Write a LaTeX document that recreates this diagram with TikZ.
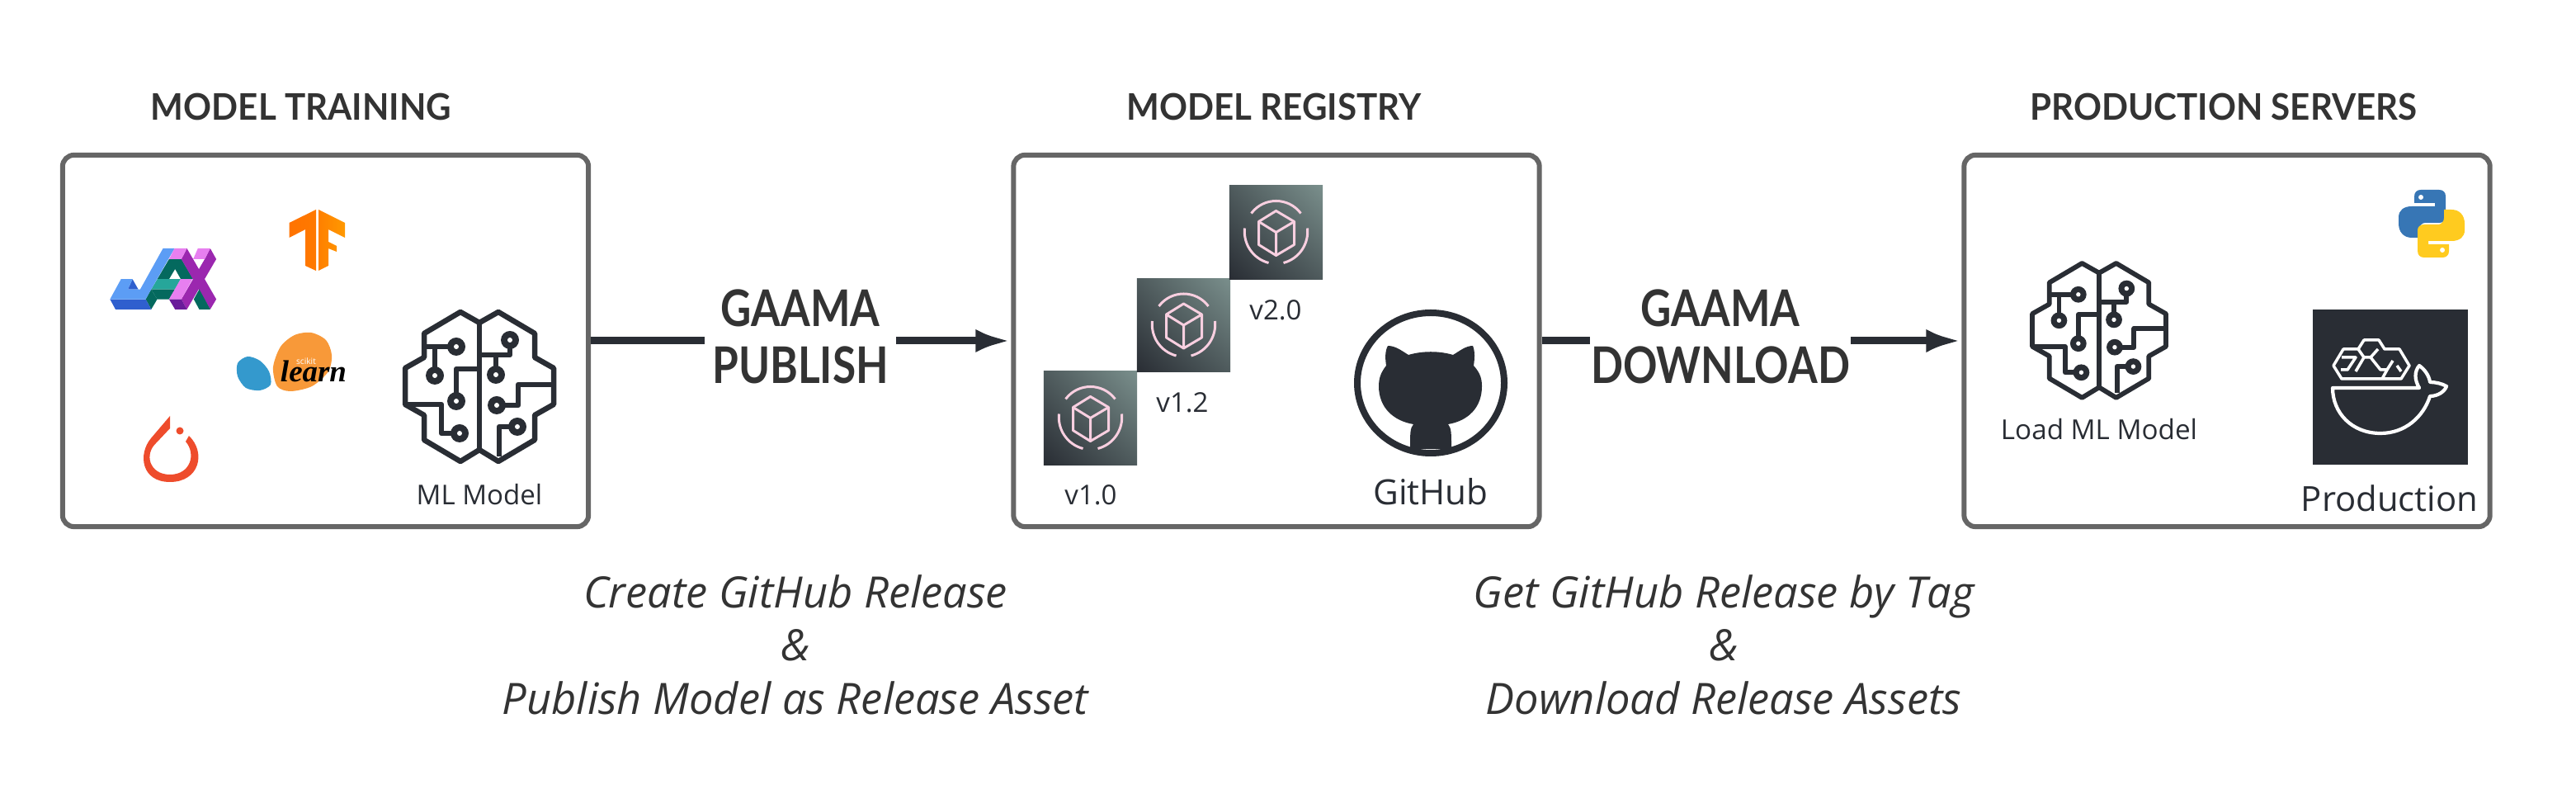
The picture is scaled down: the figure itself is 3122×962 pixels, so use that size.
\documentclass[tikz,border=0pt]{standalone}
\usepackage{fontspec}
\setmainfont{Open Sans}
\newfontfamily\titlefont{Lato}[BoldFont=Lato Bold,FakeStretch=.95]
\newfontfamily\flowfont{Lato}[BoldFont=Lato Bold,FakeStretch=.84]
\newfontfamily\learnfont{Liberation Serif}
\usepackage{xcolor}
\usepackage{tikz}
\usetikzlibrary{arrows.meta,calc,shadings}
\definecolor{inkdark}{HTML}{292D34}
\definecolor{boxgrey}{HTML}{666666}
\definecolor{hexpink}{HTML}{F8CFE0}
\definecolor{modelhi}{HTML}{7A8F8C}
\definecolor{modelmid}{HTML}{4F5B5D}
\definecolor{jaxblue}{HTML}{5C9DF5}
\definecolor{jaxnavy}{HTML}{2F5FCE}
\definecolor{jaxteal}{HTML}{04695E}
\definecolor{jaxmint}{HTML}{26A69A}
\definecolor{jaxpink}{HTML}{E77FF0}
\definecolor{jaxviolet}{HTML}{9B27AF}
\definecolor{jaxplum}{HTML}{6A1B9A}
\definecolor{skorange}{HTML}{F89939}
\definecolor{skblue}{HTML}{3499CD}
\definecolor{torchred}{HTML}{EE4C2C}
\definecolor{pyblue}{HTML}{3776B5}
\definecolor{pyyellow}{HTML}{FFCB1F}
\tikzstyle{stagebox}=[draw=boxgrey, line width=.06cm, rounded corners=.14cm, minimum width=6.37cm, minimum height=4.5cm, inner sep=0pt]
\tikzstyle{flowline}=[inkdark, line width=.09cm]
\tikzstyle{flowarrow}=[flowline, -{Latex[length=.43cm,width=.28cm]}]
\tikzstyle{stagetitle}=[anchor=base, inner sep=0pt, text=black!80, font=\titlefont\bfseries\fontsize{12.6}{14}\selectfont]
\tikzstyle{flowlabel}=[inner sep=0pt, align=center, text=black!80, font=\flowfont\bfseries\fontsize{17.4}{19.4}\selectfont]
\tikzstyle{iconlabel}=[anchor=base, inner sep=0pt, text=inkdark]
\tikzstyle{caption}=[inner sep=0pt, align=center, text=black!80, font=\itshape\fontsize{14.9}{18.35}\selectfont]
\tikzstyle{circuit}=[inkdark, line join=round]
\tikzset{pics/brainicon/.style={code={
	\draw[circuit] (0,-77) -- (-23,-90) -- (-67,-64) -- (-67,-35) -- (-90,-22) -- (-90,22) -- (-67,35) -- (-67,65) -- (-23,91) -- (0,77) -- (23,91) -- (67,65) -- (67,35) -- (90,22) -- (90,-22) -- (67,-35) -- (67,-64) -- (23,-90) -- cycle;
	\draw[circuit] (0,-77) -- (0,77);
	\draw[circuit] (-67,-48) -- (-28,-48);
	\draw[circuit] (-54,-48) -- (-54,-13);
	\draw[circuit] (0,-21) -- (-28,-21) -- (-28,18);
	\draw[circuit] (-90,22) -- (-46,22) -- (-46,57) -- (-24,57);
	\draw[circuit] (0,-38) -- (37,-38) -- (37,-56);
	\draw[circuit] (20,-38) -- (20,-14);
	\draw[circuit] (21,23) -- (47,23) -- (47,-2) -- (90,-2);
	\draw[circuit] (46,49) -- (24,49) -- (24,85);
	\foreach \x/\y in {-28/-48,-54/-13,-28/18,-24/57,37/-56,20/-14,21/23,46/49} {
		\fill[inkdark] (\x,\y) circle[radius=11];
		\fill[white] (\x,\y) circle[radius=3];
	}
}}}
\tikzset{pics/hexmodel/.style={code={
	\draw[hexpink, line width=.03cm, line join=round] (0,-26) -- (22,-13) -- (22,15) -- (0,28) -- (-21,15) -- (-21,-13) -- cycle;
	\draw[hexpink, line width=.03cm, line join=round] (-21,-13) -- (0,0) -- (22,-13) (0,0) -- (0,28);
	\draw[hexpink, line width=.03cm] (-30,-23) .. controls (-15,-43) and (15,-43) .. (30,-23);
	\draw[hexpink, line width=.03cm] (38,-5) .. controls (40,14) and (28,32) .. (9,37);
	\draw[hexpink, line width=.03cm] (-38,-5) .. controls (-40,14) and (-28,32) .. (-9,37);
}}}
\begin{document}
\begin{tikzpicture}[x=.01cm,y=-.01cm]
\useasboundingbox (0,0) rectangle (3122,962);

\node[stagebox] (train) at (394.5,413) {};
\node[stagebox] (registry) at (1547,413) {};
\node[stagebox] (serve) at (2699,413) {};

\node[stagetitle] (traintitle) at (365,146) {MODEL TRAINING};
\node[stagetitle] (registrytitle) at (1544,146) {MODEL REGISTRY};
\node[stagetitle] (servetitle) at (2695,146) {PRODUCTION SERVERS};

\node[flowlabel, minimum width=2.31cm] (publish) at (970,408) {GAAMA\\PUBLISH};
\node[flowlabel, minimum width=3.04cm] (download) at (2085,408) {GAAMA\\DOWNLOAD};
\draw[flowline] (train.east) -- (train.east -| publish.west);
\draw[flowarrow] (registry.west -| publish.east) -- (registry.west);
\draw[flowline] (registry.east) -- (registry.east -| download.west);
\draw[flowarrow] (serve.west -| download.east) -- (serve.west);

\node[caption] (pubnote) at (964,781) {Create GitHub Release\\\&\\Publish Model as Release Asset};
\node[caption] (getnote) at (2089,781) {Get GitHub Release by Tag\\\&\\Download Release Assets};

\begin{scope}[shift={(125,290)},x=.00333cm,y=-.00333cm]
\fill[jaxteal] (240,72) -- (285,72) -- (328,145) -- (283,145) -- (262,108) -- (240,145) -- (197,145) -- cycle;
\fill[jaxmint] (197,145) -- (282,145) -- (262,182) -- (175,182) -- cycle;
\fill[jaxteal] (175,182) -- (262,182) -- (240,218) -- (197,218) -- cycle;
\fill[jaxteal] (155,218) -- (175,182) -- (197,218) -- (175,255) -- cycle;
\fill[jaxviolet] (390,33) -- (412,72) -- (305,255) -- (285,218) -- (370,72) -- cycle;
\fill[jaxviolet] (305,33) -- (412,218) -- (390,255) -- (285,72) -- cycle;
\fill[jaxteal] (350,182) -- (370,218) -- (390,255) -- (350,255) -- (330,218) -- cycle;
\fill[jaxnavy] (25,218) -- (155,218) -- (175,255) -- (45,255) -- cycle;
\fill[jaxnavy] (107,145) -- (128,182) -- (90,182) -- cycle;
\fill[jaxblue] (65,145) -- (107,145) -- (90,182) -- (135,182) -- (218,33) -- (260,33) -- (175,182) -- (155,218) -- (25,218) -- cycle;
\fill[jaxpink] (260,33) -- (305,33) -- (285,72) -- (240,72) -- cycle;
\fill[jaxpink] (345,33) -- (390,33) -- (370,72) -- (328,72) -- cycle;
\fill[jaxpink] (282,145) -- (325,145) -- (285,218) -- (240,218) -- cycle;
\fill[jaxplum] (240,218) -- (285,218) -- (305,255) -- (262,255) -- cycle;
\end{scope}

\shade[left color=orange!90!red, right color=orange!95!red] (383,254) -- (350.5,270) -- (350.5,288) -- (370,278) -- (370,322) -- (383,328) -- cycle;
\shade[left color=orange, right color=orange!80!yellow] (386,254) -- (418,270) -- (418,288) -- (398,278) -- (398,293) -- (408,298) -- (408,305) -- (398,301) -- (398,322) -- (386,328) -- cycle;

\fill[skblue] plot[smooth cycle] coordinates {(300,432) (315,437) (326,450) (328,466) (315,473) (298,470) (288,456) (288,440)};
\fill[skorange] plot[smooth cycle] coordinates {(377,403) (395,412) (402,430) (398,450) (378,468) (352,474) (336,468) (331,445) (340,420) (357,406)};
\node[iconlabel, text=white, font=\fontsize{2.9}{3}\selectfont] (scikit) at (371,442) {scikit};
\node[iconlabel, text=black, font=\learnfont\bfseries\itshape\fontsize{10.5}{11}\selectfont] (learn) at (380,463) {learn};

\fill[torchred] (206,504) -- (183,531) .. controls (167,550) and (171,584) .. (206,584) .. controls (242,584) and (250,548) .. (229,528) -- (225,535) .. controls (238,550) and (231,575) .. (206,575) .. controls (181,575) and (174,550) .. (190,536) -- (206,519) -- cycle;
\fill[torchred] (218,522) circle[radius=4.5];

\pic[line width=.065cm] at (581,468) {brainicon};
\node[iconlabel, font=\fontsize{9.4}{10}\selectfont] (mlmodel) at (581,612) {ML Model};

\foreach \name/\x/\y/\vname/\vx/\vy in {a/1321.5/506.5/v1.0/1322/612,b/1434.5/394/v1.2/1433/500,c/1546.5/281.5/v2.0/1546/388} {
	\node[minimum width=1.13cm, minimum height=1.13cm, inner sep=0pt, shade, upper right=modelhi, upper left=modelmid, lower right=modelmid, lower left=inkdark] (model\name) at (\x,\y) {};
	\pic at (model\name) {hexmodel};
	\node[iconlabel, font=\fontsize{9.4}{10}\selectfont] (tag\name) at (\vx,\vy) {\vname};
}

\begin{scope}[shift={(1734,464)}]
\draw[inkdark, line width=.08cm] (0,0) ellipse[x radius=89, y radius=85];
\fill[inkdark] (-52,-45) .. controls (-42,-45) and (-34,-38) .. (-27,-34) .. controls (-10,-39) and (10,-39) .. (27,-34) .. controls (34,-38) and (42,-45) .. (51,-45) .. controls (54,-38) and (53,-28) .. (52,-21) .. controls (60,-12) and (62,-5) .. (62,4) .. controls (62,30) and (45,46) .. (21,50) .. controls (25,55) and (25,60) .. (25,80) -- (-25,80) .. controls (-25,60) and (-25,55) .. (-21,50) .. controls (-45,46) and (-63,30) .. (-63,4) .. controls (-63,-5) and (-61,-12) .. (-54,-21) .. controls (-55,-28) and (-56,-38) .. (-52,-45) -- cycle;
\end{scope}
\node[iconlabel, font=\fontsize{12}{14}\selectfont] (github) at (1734,612) {GitHub};

\pic[scale=.9, line width=.058cm] at (2544,400) {brainicon};
\node[iconlabel, font=\fontsize{9.45}{10}\selectfont] (loadmodel) at (2544,533) {Load ML Model};

\foreach \rr/\clr in {0/pyblue,180/pyyellow} {
	\begin{scope}[shift={(2947,271)},rotate=\rr]
	\fill[\clr] (-21,-33) .. controls (-21,-38) and (-18,-41) .. (-13,-41) -- (9,-41) .. controls (14,-41) and (17,-38) .. (17,-33) -- (17,-8) .. controls (17,-4) and (14,-1) .. (9,-1) -- (-8,-1) .. controls (-12,-1) and (-15,3) .. (-15,7) -- (-15,17) -- (-24,17) .. controls (-34,17) and (-40,10) .. (-40,0) -- (-40,-8) .. controls (-40,-16) and (-34,-21) .. (-24,-21) -- (4,-21) -- (4,-25) -- (-21,-25) -- cycle;
	\fill[white] (-13,-32) circle[radius=3];
	\end{scope}
}

\fill[inkdark] (2803,375) rectangle (2991,563);
\draw[white, line width=.042cm, line join=round] (2827,470) -- (2932,470) .. controls (2926,460) and (2926,450) .. (2932,443) .. controls (2938,447) and (2944,455) .. (2945,463) .. controls (2952,463) and (2960,465) .. (2965,468) .. controls (2963,474) and (2955,480) .. (2945,480) .. controls (2937,505) and (2915,525) .. (2885,525) .. controls (2850,525) and (2827,500) .. (2827,470) -- cycle;
\draw[white, line width=.035cm, line join=round] (2828,443) -- (2840,423) -- (2858,423) -- (2865,412) -- (2883,412) -- (2890,423) -- (2908,423) -- (2920,443) -- (2910,459) -- (2838,459) -- cycle;
\draw[white, line width=.035cm, line join=round] (2838,433) -- (2855,433) -- (2845,448) -- (2837,448);
\draw[white, line width=.035cm, line join=round] (2858,423) -- (2865,433) -- (2873,433) -- (2882,423);
\draw[white, line width=.035cm, line join=round] (2873,433) -- (2885,448) -- (2893,448) -- (2900,437);
\draw[white, line width=.035cm, line join=round] (2893,448) -- (2887,459);
\draw[white, line width=.035cm, line join=round] (2865,433) -- (2855,450);
\draw[white, line width=.035cm, line join=round] (2905,443) -- (2910,450);
\node[iconlabel, font=\fontsize{11.9}{13}\selectfont] (production) at (2896,620) {Production};
\end{tikzpicture}
\end{document}
